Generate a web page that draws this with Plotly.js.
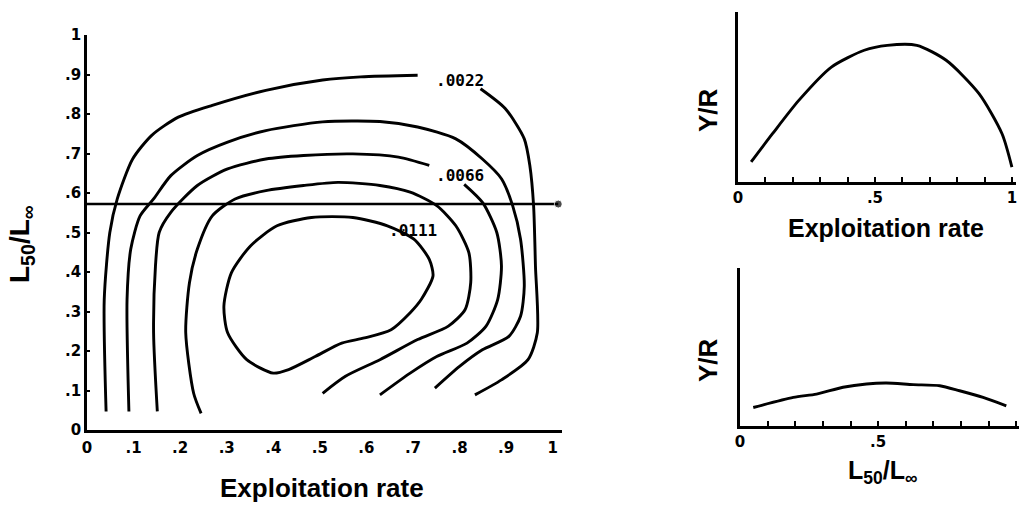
<!DOCTYPE html>
<html>
<head>
<meta charset="utf-8">
<script src="https://cdn.plot.ly/plotly-3.0.1.min.js"></script>
<style>html,body{margin:0;padding:0;background:#fff;}#chart{width:1019px;height:510px;}</style>
</head>
<body>
<div id="chart"></div>
<script>
// ---- Main isopleth panel: contour lines (Exploitation rate vs L50/Linf) ----
const contour1X = [0.041, 0.037, 0.049, 0.065, 0.098, 0.139, 0.196, 0.269, 0.384, 0.506, 0.588, 0.71, null, 0.845, 0.898, 0.939, 0.951, 0.959, 0.963, 0.967, 0.947, 0.890, 0.833];
const contour1Y = [0.047, 0.33, 0.5, 0.585, 0.686, 0.746, 0.792, 0.822, 0.860, 0.886, 0.894, 0.898, null, 0.864, 0.814, 0.737, 0.669, 0.568, 0.415, 0.246, 0.178, 0.127, 0.089];
const contour2X = [0.090, 0.086, 0.094, 0.114, 0.143, 0.180, 0.237, 0.302, 0.384, 0.506, 0.629, 0.710, 0.792, 0.849, 0.890, 0.914, 0.931, 0.939, 0.931, 0.906, 0.849, 0.800, 0.747];
const contour2Y = [0.047, 0.33, 0.458, 0.542, 0.585, 0.644, 0.695, 0.729, 0.758, 0.780, 0.781, 0.767, 0.737, 0.686, 0.636, 0.568, 0.483, 0.364, 0.288, 0.237, 0.203, 0.161, 0.106];
const contour3X = [0.151, 0.143, 0.147, 0.155, 0.180, 0.237, 0.302, 0.384, 0.465, 0.571, 0.669, 0.735, null, 0.810, 0.850, 0.880, 0.890, 0.882, 0.857, 0.816, 0.751, 0.694, 0.629];
const contour3Y = [0.047, 0.246, 0.415, 0.5, 0.551, 0.619, 0.661, 0.686, 0.695, 0.699, 0.691, 0.670, null, 0.622, 0.575, 0.5, 0.415, 0.331, 0.263, 0.220, 0.186, 0.144, 0.089];
const contour4X = [0.245, 0.229, 0.212, 0.220, 0.237, 0.269, 0.318, 0.384, 0.465, 0.539, 0.629, 0.694, 0.751, 0.792, 0.820, 0.824, 0.812, 0.776, 0.710, 0.629, 0.555, 0.506];
const contour4Y = [0.042, 0.093, 0.246, 0.373, 0.458, 0.542, 0.585, 0.606, 0.619, 0.627, 0.619, 0.602, 0.568, 0.517, 0.449, 0.373, 0.305, 0.263, 0.229, 0.178, 0.136, 0.093];
const contour5X = [0.400, 0.343, 0.302, 0.294, 0.310, 0.351, 0.408, 0.482, 0.571, 0.645, 0.702, 0.735, 0.743, 0.718, 0.694, 0.653, 0.596, 0.547, 0.490, 0.433, 0.400];
const contour5Y = [0.144, 0.178, 0.246, 0.314, 0.398, 0.466, 0.517, 0.538, 0.538, 0.517, 0.483, 0.432, 0.390, 0.331, 0.297, 0.254, 0.233, 0.220, 0.186, 0.153, 0.144];
const refLineX = [0, 1.012];
const refLineY = [0.572, 0.572];
const contourLabels = ['.0022', '.0066', '.0111'];
const contourLabelX = [0.80, 0.80, 0.70];
const contourLabelY = [0.886, 0.644, 0.504];

// ---- Tick labels ----
const mainTickVals = [0, 0.1, 0.2, 0.3, 0.4, 0.5, 0.6, 0.7, 0.8, 0.9, 1];
const mainTickText = ['0', '.1', '.2', '.3', '.4', '.5', '.6', '.7', '.8', '.9', '1'];
const smallTickVals = [0, 0.5, 1];
const smallTickText = ['0', '.5', '1'];

// ---- Side panels: Y/R profiles ----
const yrExploitX = [0.048, 0.126, 0.222, 0.341, 0.461, 0.545, 0.653, 0.760, 0.880, 0.964, 1.0];
const yrExploitY = [0.118, 0.284, 0.480, 0.676, 0.775, 0.804, 0.804, 0.716, 0.520, 0.284, 0.088];
const yrSizeX = [0.048, 0.193, 0.277, 0.373, 0.458, 0.530, 0.627, 0.723, 0.795, 0.880, 0.964];
const yrSizeY = [0.117, 0.181, 0.202, 0.245, 0.266, 0.272, 0.262, 0.255, 0.223, 0.181, 0.128];

const black = '#000';
const lineStyle = {color: black, width: 2.9, shape: 'spline', smoothing: 0.7};
function contourTrace(xs, ys) {
  return {x: xs, y: ys, type: 'scatter', mode: 'lines', line: lineStyle, xaxis: 'x', yaxis: 'y', hoverinfo: 'skip', connectgaps: false};
}
const traces = [
  contourTrace(contour1X, contour1Y),
  contourTrace(contour2X, contour2Y),
  contourTrace(contour3X, contour3Y),
  contourTrace(contour4X, contour4Y),
  contourTrace(contour5X, contour5Y),
  {x: refLineX, y: refLineY, type: 'scatter', mode: 'lines+markers', line: {color: black, width: 2.4},
   marker: {size: [0, 8], color: black}, xaxis: 'x', yaxis: 'y'},
  {x: yrExploitX, y: yrExploitY, type: 'scatter', mode: 'lines', line: lineStyle, xaxis: 'x2', yaxis: 'y2'},
  {x: yrSizeX, y: yrSizeY, type: 'scatter', mode: 'lines', line: lineStyle, xaxis: 'x3', yaxis: 'y3'}
];

const tickFont = {family: 'DejaVu Sans, Liberation Sans, sans-serif', size: 15, color: black, weight: 'bold'};
const titleFont = (s) => ({family: 'Liberation Sans, Arial, sans-serif', size: s, color: black, weight: 'bold'});
const baseAxis = {showline: true, linecolor: black, linewidth: 2.8, showgrid: false, zeroline: false, fixedrange: true};
const smallMinor = {tick0: 0, dtick: 0.1, ticks: 'inside', ticklen: 5, tickwidth: 2, tickcolor: black, showgrid: false};

const annotations = [
  {text: 'Exploitation rate', xref: 'paper', yref: 'paper', x: 322/1019, y: 1 - 488/510, showarrow: false, font: titleFont(26), xanchor: 'center', yanchor: 'middle'},
  {text: 'L<sub>50</sub>/L<sub>∞</sub>', xref: 'paper', yref: 'paper', x: 21/1019, y: 1 - 244/510, showarrow: false, textangle: -90, font: titleFont(28), xanchor: 'center', yanchor: 'middle'},
  {text: 'Exploitation rate', xref: 'paper', yref: 'paper', x: 886/1019, y: 1 - 228/510, showarrow: false, font: titleFont(25), xanchor: 'center', yanchor: 'middle'},
  {text: 'Y/R', xref: 'paper', yref: 'paper', x: 708/1019, y: 1 - 110/510, showarrow: false, textangle: -90, font: titleFont(26), xanchor: 'center', yanchor: 'middle'},
  {text: 'Y/R', xref: 'paper', yref: 'paper', x: 708/1019, y: 1 - 360/510, showarrow: false, textangle: -90, font: titleFont(26), xanchor: 'center', yanchor: 'middle'},
  {text: 'L<sub>50</sub>/L<sub>∞</sub>', xref: 'paper', yref: 'paper', x: 882/1019, y: 1 - 472/510, showarrow: false, font: titleFont(25), xanchor: 'center', yanchor: 'middle'}
];
contourLabels.forEach((t, i) => {
  annotations.push({text: t, xref: 'x', yref: 'y', x: contourLabelX[i], y: contourLabelY[i], showarrow: false,
    font: {family: 'DejaVu Sans Mono, monospace', size: 16, color: black, weight: 'bold'}});
});

const layout = {
  width: 1019, height: 510,
  margin: {l: 0, r: 0, t: 0, b: 0},
  paper_bgcolor: '#fff', plot_bgcolor: '#fff',
  showlegend: false,
  xaxis: Object.assign({}, baseAxis, {domain: [87/1019, 562/1019], range: [0, 1.02], tickvals: mainTickVals, ticktext: mainTickText, tickfont: tickFont, ticks: '', ticklabelstandoff: 2, anchor: 'y'}),
  yaxis: Object.assign({}, baseAxis, {domain: [1 - 430/510, 1 - 35/510], range: [0, 1], tickvals: mainTickVals, ticktext: mainTickText, tickfont: tickFont, ticks: 'inside', ticklen: 3, tickwidth: 2, tickcolor: black, anchor: 'x'}),
  xaxis2: Object.assign({}, baseAxis, {domain: [738/1019, 1016/1019], range: [0, 1.015], tickvals: smallTickVals, ticktext: smallTickText, tickfont: tickFont, ticks: 'inside', ticklen: 5, tickwidth: 2, tickcolor: black, minor: smallMinor, anchor: 'y2'}),
  yaxis2: Object.assign({}, baseAxis, {domain: [1 - 182/510, 1 - 12/510], range: [0, 1], showticklabels: false, ticks: '', anchor: 'x2'}),
  xaxis3: Object.assign({}, baseAxis, {domain: [740/1019, 1], range: [0, 1.01], tickvals: smallTickVals, ticktext: smallTickText, tickfont: tickFont, ticks: 'inside', ticklen: 5, tickwidth: 2, tickcolor: black, minor: smallMinor, anchor: 'y3'}),
  yaxis3: Object.assign({}, baseAxis, {domain: [1 - 426/510, 1 - 268/510], range: [0, 1], showticklabels: false, ticks: '', anchor: 'x3'}),
  annotations: annotations
};

Plotly.newPlot('chart', traces, layout, {displayModeBar: false, staticPlot: true});
</script>
</body>
</html>
